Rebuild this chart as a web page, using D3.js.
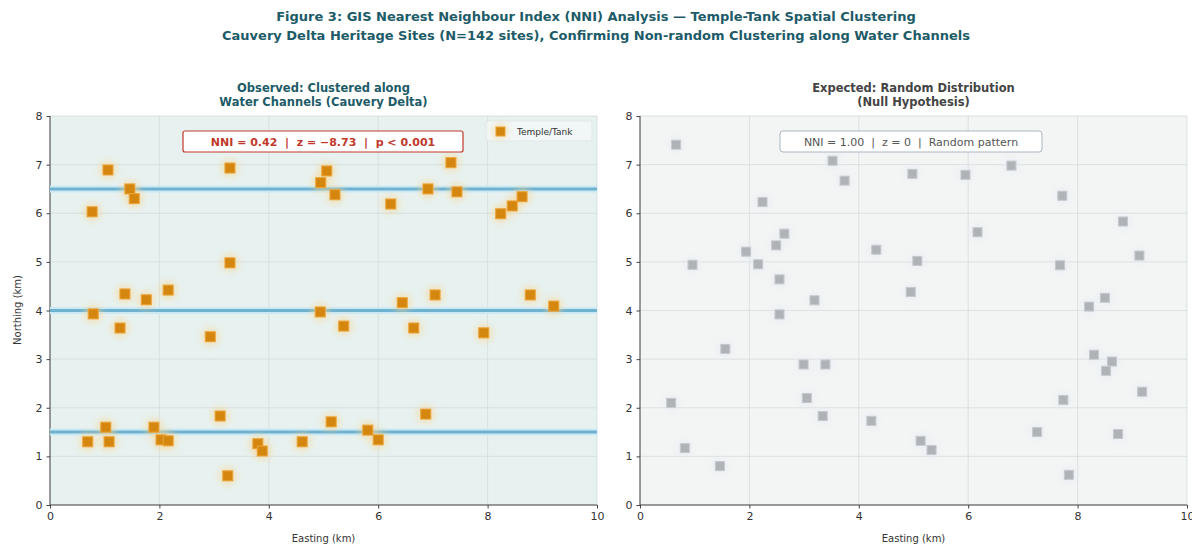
<!DOCTYPE html>
<html>
<head>
<meta charset="utf-8">
<script src="https://cdn.jsdelivr.net/npm/d3@7"></script>
<style>
  body { margin: 0; background: #ffffff; }
  svg text { font-family: "DejaVu Sans", sans-serif; }
  .axis text { font-size: 11px; fill: #333; }
  .axis path, .axis line { stroke: #444; }
</style>
</head>
<body>
<div id="chart"></div>
<script>
// observed sites (easting, northing in km)
var obsX = [0.77, 1.06, 1.46, 1.54, 3.29, 4.95, 5.06, 5.21, 6.23, 6.91, 7.33, 7.44, 8.24, 8.45, 8.63,
            0.79, 1.28, 1.37, 1.76, 2.16, 2.93, 3.29, 4.94, 5.37, 6.44, 6.65, 7.04, 7.93, 8.78, 9.21,
            0.69, 1.02, 1.08, 1.90, 2.03, 2.16, 3.11, 3.25, 3.80, 3.88, 4.61, 5.14, 5.81, 6.00, 6.87];
var obsY = [6.03, 6.89, 6.50, 6.30, 6.93, 6.63, 6.87, 6.38, 6.19, 6.50, 7.04, 6.44, 5.99, 6.15, 6.34,
            3.93, 3.64, 4.34, 4.22, 4.42, 3.46, 4.98, 3.97, 3.68, 4.16, 3.64, 4.32, 3.54, 4.32, 4.09,
            1.30, 1.60, 1.30, 1.60, 1.34, 1.32, 1.83, 0.60, 1.26, 1.11, 1.30, 1.71, 1.54, 1.34, 1.87];

// random (null) sites
var rndX = [0.66, 3.52, 3.74, 2.24, 4.98, 5.95, 6.79, 7.72, 8.83, 9.13,
            0.96, 1.94, 2.16, 2.49, 2.64, 2.55, 2.55, 3.19, 4.32, 5.07, 4.95, 6.17, 7.68, 8.21, 8.50,
            1.56, 2.99, 3.39, 8.30, 8.63, 8.52, 9.18,
            0.57, 3.05, 3.34, 4.23, 7.74, 7.26, 8.74, 0.82, 1.46, 5.13, 5.33, 7.84];
var rndY = [7.41, 7.08, 6.67, 6.23, 6.81, 6.79, 6.98, 6.36, 5.83, 5.13,
            4.94, 5.21, 4.95, 5.34, 5.58, 4.64, 3.92, 4.21, 5.25, 5.02, 4.38, 5.61, 4.93, 4.08, 4.26,
            3.21, 2.89, 2.89, 3.09, 2.95, 2.76, 2.33,
            2.10, 2.20, 1.83, 1.73, 2.16, 1.50, 1.46, 1.17, 0.80, 1.32, 1.13, 0.62];

// water channels (northing)
var channels = [1.5, 4.0, 6.5];
var ticksX = [0, 2, 4, 6, 8, 10];
var ticksY = [0, 1, 2, 3, 4, 5, 6, 7, 8];

var W = 1192, H = 544;
var svg = d3.select("#chart").append("svg")
    .attr("width", W).attr("height", H);

var defs = svg.append("defs");
defs.append("filter").attr("id", "glow")
    .attr("x", "-50%").attr("y", "-50%").attr("width", "200%").attr("height", "200%")
  .append("feGaussianBlur").attr("stdDeviation", 3);

// main title
svg.append("text").attr("x", W / 2).attr("y", 21)
    .attr("text-anchor", "middle").style("font-size", "13px").style("font-weight", "bold")
    .style("fill", "#1d5b68")
    .text("Figure 3: GIS Nearest Neighbour Index (NNI) Analysis \u2014 Temple-Tank Spatial Clustering");
svg.append("text").attr("x", W / 2).attr("y", 40)
    .attr("text-anchor", "middle").style("font-size", "13px").style("font-weight", "bold")
    .style("fill", "#1d5b68")
    .text("Cauvery Delta Heritage Sites (N=142 sites), Confirming Non-random Clustering along Water Channels");

function panel(opt) {
  var x = d3.scaleLinear().domain([0, 10]).range([opt.left, opt.left + 547]);
  var y = d3.scaleLinear().domain([0, 8]).range([505, 116]);
  var g = svg.append("g");

  g.append("rect")
    .attr("x", x(0)).attr("y", y(8))
    .attr("width", x(10) - x(0)).attr("height", y(0) - y(8))
    .style("fill", opt.bg);

  // grid
  g.selectAll("line.gx").data(ticksX).enter().append("line")
    .attr("x1", d => x(d)).attr("x2", d => x(d))
    .attr("y1", y(0)).attr("y2", y(8))
    .style("stroke", "#d6dcdc").style("stroke-width", 0.8);
  g.selectAll("line.gy").data(ticksY).enter().append("line")
    .attr("x1", x(0)).attr("x2", x(10))
    .attr("y1", d => y(d)).attr("y2", d => y(d))
    .style("stroke", "#d6dcdc").style("stroke-width", 0.8);

  // subplot title
  opt.title.forEach((t, i) => {
    g.append("text").attr("x", (x(0) + x(10)) / 2).attr("y", 92 + i * 14)
      .attr("text-anchor", "middle").style("font-size", "11.5px").style("font-weight", "bold")
      .style("fill", opt.titleColor).text(t);
  });

  // axes
  g.append("g").attr("class", "axis")
    .attr("transform", "translate(0," + y(0) + ")")
    .call(d3.axisBottom(x).tickValues(ticksX).tickSize(3.5).tickPadding(4).tickFormat(d3.format("d")))
    .call(a => a.select(".domain").attr("d", "M" + x(0) + ",0H" + x(10)));
  g.append("g").attr("class", "axis")
    .attr("transform", "translate(" + x(0) + ",0)")
    .call(d3.axisLeft(y).tickValues(ticksY).tickSize(3.5).tickPadding(4).tickFormat(d3.format("d")))
    .call(a => a.select(".domain").attr("d", "M0," + y(0) + "V" + y(8)));

  g.append("text").attr("x", (x(0) + x(10)) / 2).attr("y", 542)
    .attr("text-anchor", "middle").style("font-size", "10px").style("fill", "#333")
    .text("Easting (km)");

  return {g: g, x: x, y: y};
}

// ---- left: observed
var L = panel({left: 50, bg: "#e7f1ef", title: ["Observed: Clustered along", "Water Channels (Cauvery Delta)"], titleColor: "#1d5b68"});

L.g.selectAll("line.chan").data(channels).enter().append("line")
  .attr("x1", L.x(0)).attr("x2", L.x(10))
  .attr("y1", d => L.y(d)).attr("y2", d => L.y(d))
  .style("stroke", "#cbe9f5").style("stroke-width", 7);
L.g.selectAll("line.chan2").data(channels).enter().append("line")
  .attr("x1", L.x(0)).attr("x2", L.x(10))
  .attr("y1", d => L.y(d)).attr("y2", d => L.y(d))
  .style("stroke", "#6fb2cf").style("stroke-width", 3);

L.g.selectAll("circle.halo").data(obsX).enter().append("circle")
  .attr("cx", d => L.x(d)).attr("cy", (d, i) => L.y(obsY[i])).attr("r", 9)
  .style("fill", "#fbd58c").style("opacity", 0.55).attr("filter", "url(#glow)");
L.g.selectAll("rect.site").data(obsX).enter().append("rect")
  .attr("x", d => L.x(d) - 5).attr("y", (d, i) => L.y(obsY[i]) - 5)
  .attr("width", 10).attr("height", 10)
  .style("fill", "#d4860f").style("stroke", "#eba338").style("stroke-width", 1);

L.g.append("text").attr("transform", "translate(21,310) rotate(-90)")
  .attr("text-anchor", "middle").style("font-size", "10px").style("fill", "#333")
  .text("Northing (km)");

// annotation
var annL = L.g.append("g");
annL.append("rect").attr("x", 183).attr("y", 131).attr("width", 280).attr("height", 21).attr("rx", 2)
  .style("fill", "#ffffff").style("stroke", "#c0392b").style("stroke-width", 1.2);
annL.append("text").attr("x", 323).attr("y", 146).attr("text-anchor", "middle")
  .style("font-size", "11px").style("font-weight", "bold").style("fill", "#c0392b")
  .attr("xml:space", "preserve")
  .text("NNI = 0.42  |  z = \u22128.73  |  p < 0.001");

// legend
var leg = L.g.append("g");
leg.append("rect").attr("x", 486).attr("y", 121).attr("width", 106).attr("height", 20).attr("rx", 2)
  .style("fill", "#f4f8f8").style("opacity", 0.8).style("stroke", "#e0e6e6");
leg.append("circle").attr("cx", 500).attr("cy", 131).attr("r", 8)
  .style("fill", "#fbd58c").style("opacity", 0.55).attr("filter", "url(#glow)");
leg.append("rect").attr("x", 496).attr("y", 127).attr("width", 9).attr("height", 9)
  .style("fill", "#d4860f").style("stroke", "#eba338");
leg.append("text").attr("x", 517).attr("y", 134.5).style("font-size", "9px").style("fill", "#333")
  .text("Temple/Tank");

// ---- right: random
var R = panel({left: 640, bg: "#f3f4f4", title: ["Expected: Random Distribution", "(Null Hypothesis)"], titleColor: "#444"});

R.g.selectAll("circle.halo").data(rndX).enter().append("circle")
  .attr("cx", d => R.x(d)).attr("cy", (d, i) => R.y(rndY[i])).attr("r", 8)
  .style("fill", "#e4ecf4").style("opacity", 0.6).attr("filter", "url(#glow)");
R.g.selectAll("rect.site").data(rndX).enter().append("rect")
  .attr("x", d => R.x(d) - 4.5).attr("y", (d, i) => R.y(rndY[i]) - 4.5)
  .attr("width", 9).attr("height", 9)
  .style("fill", "#afb2b7").style("stroke", "#c6c8cc").style("stroke-width", 1);

var annR = R.g.append("g");
annR.append("rect").attr("x", 780).attr("y", 131).attr("width", 262).attr("height", 21).attr("rx", 3)
  .style("fill", "#ffffff").style("stroke", "#a9b6c2").style("stroke-width", 1);
annR.append("text").attr("x", 911).attr("y", 146).attr("text-anchor", "middle")
  .style("font-size", "11px").style("fill", "#555")
  .attr("xml:space", "preserve")
  .text("NNI = 1.00  |  z = 0  |  Random pattern");
</script>
</body>
</html>
